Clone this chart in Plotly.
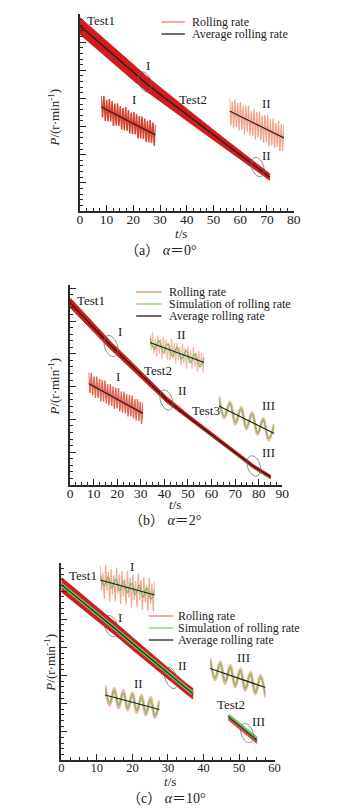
import numpy as np
import plotly.graph_objects as go

W, H = 360, 811

# ---------------- Panel (a)  alpha = 0 deg ----------------
a_t = [0, 10, 20, 25, 30, 40, 50, 60, 70, 71]
a_avg = [6.58, 5.75, 4.92, 4.52, 4.15, 3.42, 2.70, 1.99, 1.28, 1.21]
a_upper = [6.88, 6.04, 5.20, 4.79, 4.40, 3.63, 2.88, 2.14, 1.40, 1.33]
a_lower = [6.28, 5.46, 4.64, 4.25, 3.90, 3.21, 2.52, 1.84, 1.16, 1.09]

# inset I (t 20-28)
aI_avg = [4.82, 4.26]
aI_roll = [5.04, 4.61, 5.04, 4.54, 4.96, 4.53, 4.98, 4.53, 4.94, 4.44, 4.89, 4.45, 4.89, 4.44,
           4.84, 4.37, 4.80, 4.35, 4.82, 4.34, 4.76, 4.29, 4.71, 4.28, 4.72, 4.27, 4.68, 4.19,
           4.64, 4.19, 4.63, 4.18, 4.59, 4.12, 4.54, 4.11, 4.56, 4.10, 4.51, 4.04, 4.47]
# inset II (t 62-70)
aII_avg = [1.98, 1.44]
aII_roll = [2.24, 1.69, 2.17, 1.63, 2.21, 1.66, 2.14, 1.59, 2.16, 1.60, 2.08, 1.51, 2.09, 1.56,
            2.09, 1.49, 1.98, 1.48, 2.02, 1.41, 1.96, 1.45, 1.97, 1.39, 1.89, 1.34, 1.90, 1.36,
            1.90, 1.27, 1.82, 1.29, 1.83, 1.24, 1.74, 1.26, 1.78, 1.18, 1.72, 1.18, 1.70]

# ---------------- Panel (b)  alpha = 2 deg ----------------
b_t = [0, 10, 17, 25, 33, 41, 50, 60, 70, 78, 85]
b_avg = [5.56, 4.80, 4.27, 3.72, 3.16, 2.60, 2.08, 1.54, 1.00, 0.56, 0.25]
b_upper = [5.71, 4.93, 4.39, 3.83, 3.26, 2.69, 2.16, 1.61, 1.06, 0.61, 0.30]
b_lower = [5.41, 4.67, 4.15, 3.61, 3.06, 2.51, 2.00, 1.47, 0.94, 0.51, 0.20]
b_sim = [5.56, 4.80, 4.27, 3.72, 3.16, 2.60, 2.07, 1.51, 0.96, 0.52, 0.22]

bI_avg = [4.39, 3.79]
bI_roll = [4.61, 4.20, 4.60, 4.15, 4.53, 4.10, 4.53, 4.10, 4.48, 4.03, 4.46, 4.03, 4.45, 3.99,
           4.38, 3.95, 4.38, 3.94, 4.33, 3.88, 4.31, 3.89, 4.30, 3.83, 4.23, 3.81, 4.23, 3.79,
           4.18, 3.73, 4.16, 3.73, 4.15, 3.69, 4.08, 3.65, 4.08, 3.64, 4.03, 3.58, 4.01]

bII_avg = [3.29, 2.89]
bII_sim = [3.39, 3.16, 3.33, 3.09, 3.26, 3.01, 3.19, 2.96, 3.13, 2.89, 3.06, 2.81, 2.99]
bII_roll = [3.47, 3.14, 3.49, 3.06, 3.37, 3.00, 3.43, 3.06, 3.36, 2.95, 3.41, 3.05, 3.35, 2.94,
            3.28, 2.94, 3.37, 2.97, 3.28, 2.86, 3.29, 2.94, 3.21, 2.83, 3.27, 2.87, 3.19, 2.77,
            3.22, 2.87, 3.14, 2.76, 3.20, 2.80, 3.09, 2.70, 3.13, 2.77, 3.08, 2.68, 3.08]

bIII_avg = [1.28, 0.73]
bIII_sim = [1.44, 1.07, 1.33, 0.95, 1.22, 0.85, 1.12, 0.74, 1.00, 0.63, 0.89]
bIII_roll = [1.47, 1.04, 1.36, 0.92, 1.25, 0.82, 1.15, 0.71, 1.03, 0.60, 0.92]

# ---------------- Panel (c)  alpha = 10 deg ----------------
c_t = [0, 5, 10, 15, 20, 25, 30, 35, 37]
c_avg = [6.23, 5.72, 5.20, 4.68, 4.14, 3.61, 3.07, 2.55, 2.36]
c_upper = [6.49, 5.97, 5.44, 4.91, 4.36, 3.82, 3.27, 2.74, 2.55]
c_lower = [5.97, 5.47, 4.96, 4.45, 3.92, 3.40, 2.87, 2.36, 2.17]
c_sim = [6.23, 5.72, 5.20, 4.68, 4.14, 3.61, 3.07, 2.55, 2.36]

c2_t = [47, 51, 55]
c2_avg = [1.54, 1.12, 0.71]
c2_upper = [1.60, 1.18, 0.77]
c2_lower = [1.42, 1.00, 0.59]
c2_sim = [1.59, 1.17, 0.76]

cI_avg = [5.50, 5.20]
cI_sim = [5.60, 5.38, 5.56, 5.34, 5.51, 5.29, 5.47, 5.25, 5.43, 5.21, 5.39, 5.16, 5.34, 5.12, 5.30]
cI_roll = [5.80, 5.29, 5.64, 5.12, 5.80, 5.28, 5.66, 5.07, 5.72, 5.21, 5.59, 5.07, 5.75, 5.23,
           5.61, 5.02, 5.68, 5.17, 5.52, 5.00, 5.68, 5.15, 5.54, 4.95, 5.61, 5.10, 5.48, 4.95,
           5.63, 5.10, 5.50, 4.90, 5.56, 5.05, 5.41, 4.88, 5.55, 5.03, 5.43, 4.87, 5.48]

cII_avg = [3.00, 2.71]
cII_sim = [3.14, 2.84, 3.09, 2.79, 3.04, 2.74, 3.00, 2.69, 2.95, 2.64, 2.90, 2.59, 2.85]
cII_roll = [3.19, 2.79, 3.13, 2.74, 3.09, 2.70, 3.04, 2.65, 2.99, 2.60, 2.95, 2.55, 2.89]

cIII_avg = [1.83, 1.45]
cIII_sim = [1.99, 1.64, 1.92, 1.57, 1.85, 1.50, 1.78, 1.43, 1.71, 1.36, 1.65, 1.29]
cIII_roll = [2.03, 1.60, 1.96, 1.53, 1.89, 1.46, 1.82, 1.39, 1.75, 1.32, 1.69, 1.25]

# ---------------- styling ----------------
RED = "#d01c1c"
GREEN = "#6fc25c"
BLACK = "#1e1e1e"
SERIF = "Liberation Serif, Times New Roman, serif"
CAP_FONT = "Liberation Serif, Noto Sans CJK SC, serif"


def X(px):
    return px / W


def Y(py):
    return 1 - py / H


fig = go.Figure()
layout = dict(width=W, height=H, margin=dict(l=0, r=0, t=0, b=0),
              paper_bgcolor="white", plot_bgcolor="rgba(0,0,0,0)", showlegend=False)
annotations = []
shapes = []


def main_axes(n, xbox, ybox, xr, yr, fsize):
    sx = "" if n == 1 else str(n)
    common = dict(showline=True, linecolor="#2a2a2a", linewidth=1.5, ticks="inside",
                  tickwidth=1.1, tickcolor="#2a2a2a", showgrid=False, zeroline=False,
                  fixedrange=True)
    layout["xaxis" + sx] = dict(domain=[X(xbox[0]), X(xbox[1])], range=xr, anchor="y" + sx,
                                dtick=10, ticklen=6, ticklabelstandoff=-5,
                                minor=dict(dtick=2.5, ticks="inside", ticklen=3, tickcolor="#2a2a2a"),
                                tickfont=dict(family=SERIF, size=fsize, color="#222"), **common)
    layout["yaxis" + sx] = dict(domain=[Y(ybox[1]), Y(ybox[0])], range=yr, anchor="x" + sx,
                                dtick=1, ticklen=6, showticklabels=False,
                                minor=dict(dtick=0.2, ticks="inside", ticklen=3, tickcolor="#2a2a2a"),
                                **common)


def band(ax, t, up, lo, color):
    fig.add_trace(go.Scatter(x=list(t) + list(t)[::-1], y=list(up) + list(lo)[::-1],
                             fill="toself", fillcolor=color, mode="lines",
                             line=dict(color=color, width=0.8),
                             xaxis="x" + ax, yaxis="y" + ax, hoverinfo="skip"))


def line(ax, t, v, color, width, shape="linear"):
    fig.add_trace(go.Scatter(x=t, y=v, mode="lines",
                             line=dict(color=color, width=width, shape=shape),
                             xaxis="x" + ax, yaxis="y" + ax, hoverinfo="skip"))


inset_n = [4]


def inset(xbox, ybox, tr, pr, avg, roll, roll_color, roll_width, roll_shape="linear", sim=None):
    n = inset_n[0]
    inset_n[0] += 1
    ax = str(n)
    layout["xaxis" + ax] = dict(domain=[X(xbox[0]), X(xbox[1])], range=tr, anchor="y" + ax,
                                visible=False, fixedrange=True)
    layout["yaxis" + ax] = dict(domain=[Y(ybox[1]), Y(ybox[0])], range=pr, anchor="x" + ax,
                                visible=False, fixedrange=True)
    line(ax, list(np.linspace(tr[0], tr[1], len(roll))), roll, roll_color, roll_width, roll_shape)
    if sim is not None:
        line(ax, list(np.linspace(tr[0], tr[1], len(sim))), sim, GREEN, 1.3, "spline")
    line(ax, [tr[0], tr[1]], avg, BLACK, 1.2)


def text(px, py, s, size=13):
    annotations.append(dict(x=X(px), y=Y(py), xref="paper", yref="paper", text=s,
                            showarrow=False, xanchor="center", yanchor="middle",
                            font=dict(family=SERIF, size=size, color="#222")))


def ellipse(cx, cy, rx, ry, ang=20):
    a = np.deg2rad(ang)
    pts = []
    for th in np.linspace(0, 2 * np.pi, 41):
        ex, ey = rx * np.cos(th), ry * np.sin(th)
        px = cx + ex * np.cos(a) + ey * np.sin(a)
        py = cy - ex * np.sin(a) + ey * np.cos(a)
        pts.append((X(px), Y(py)))
    path = "M " + " L ".join(f"{p[0]:.5f},{p[1]:.5f}" for p in pts) + " Z"
    shapes.append(dict(type="path", path=path, xref="paper", yref="paper",
                       line=dict(color="#6a6a6a", width=0.8)))


def legend(x0, x1, xt, rows):
    for py, col, lab in rows:
        shapes.append(dict(type="line", x0=X(x0), x1=X(x1), y0=Y(py), y1=Y(py), xref="paper",
                           yref="paper", line=dict(color=col, width=1.3)))
        annotations.append(dict(x=X(xt), y=Y(py), xref="paper", yref="paper", text=lab,
                                showarrow=False, xanchor="left", yanchor="middle",
                                font=dict(family=SERIF, size=12, color="#222")))


def axis_titles(xt, yt):
    text(xt[0], xt[1], "<i>t</i>/s", 13)
    annotations.append(dict(x=X(yt[0]), y=Y(yt[1]), xref="paper", yref="paper",
                            text="<i>P</i>/(r·min<sup>-1</sup>)", textangle=-90, showarrow=False,
                            xanchor="center", yanchor="middle",
                            font=dict(family=SERIF, size=13, color="#222")))


ROLL_LEG = "#f07f6c"
SIM_LEG = "#86cc70"

# ===== Panel (a) =====
main_axes(1, (79, 299), (14, 211), [0, 80], [0, 7], 13.5)
band("", a_t, a_upper, a_lower, RED)
line("", a_t, a_avg, BLACK, 1.2)
inset((101, 157), (90, 148), [20, 28], [4.0, 5.16], aI_avg, aI_roll, "#d8432f", 1.5)
inset((233, 289), (95, 155), [62, 70], [1.1, 2.3], aII_avg, aII_roll, "#f0a48c", 1.3)
text(101, 21, "Test1")
text(149, 65, "I")
ellipse(146, 82, 6, 10.5)
text(195, 100, "Test2")
text(135, 100, "I")
text(271, 104, "II")
text(271, 155, "II")
ellipse(262, 167, 6, 10)
legend(163, 187, 192, [(22, ROLL_LEG, "Rolling rate"), (34, BLACK, "Average rolling rate")])
axis_titles((183, 233), (52, 118))
annotations.append(dict(x=X(163), y=Y(250), xref="paper", yref="paper",
                        text="（a） <i>α</i>＝0°", showarrow=False, xanchor="center",
                        yanchor="middle", font=dict(family=CAP_FONT, size=14, color="#222")))

# ===== Panel (b) =====
main_axes(2, (69, 287.3), (285, 485), [0, 90], [0, 6.1], 13.5)
line("2", b_t, b_sim, GREEN, 2.6)
band("2", b_t, b_upper, b_lower, RED)
line("2", b_t, b_avg, BLACK, 1.2)
inset((88, 144), (368, 426), [14, 22], [3.54, 4.70], bI_avg, bI_roll, "#e46656", 1.4)
inset((151, 207), (332, 382), [38, 46], [2.5, 3.5], bII_avg, bII_roll, "#f5b8a8", 1.2,
      sim=bII_sim)
inset((222, 279), (390, 450), [72, 80], [0.4, 1.6], bIII_avg, bIII_roll, "#f6b6a6", 3.0,
      roll_shape="spline", sim=bIII_sim)
text(91, 300, "Test1")
text(120, 331, "I")
ellipse(111, 346, 6.5, 11)
text(184, 334, "II")
text(118, 376, "I")
text(159, 370, "Test2")
text(185, 390, "II")
ellipse(168, 400, 6, 10.5)
text(209, 411, "Test3")
text(273, 405, "III")
text(273, 452, "III")
ellipse(258, 466, 6.5, 10.5)
legend(137, 163, 169, [(292, ROLL_LEG, "Rolling rate"), (304, SIM_LEG, "Simulation of rolling rate"),
                       (316, BLACK, "Average rolling rate")])
axis_titles((177, 505), (52, 387))
annotations.append(dict(x=X(167), y=Y(520), xref="paper", yref="paper",
                        text="（b） <i>α</i>＝2°", showarrow=False, xanchor="center",
                        yanchor="middle", font=dict(family=CAP_FONT, size=14, color="#222")))

# ===== Panel (c) =====
main_axes(3, (60, 279.3), (563, 760), [0, 60], [0, 7], 12.5)
band("3", c_t, c_upper, c_lower, RED)
line("3", c_t, c_sim, GREEN, 4)
line("3", c_t, c_avg, BLACK, 1.1)
band("3", c2_t, c2_upper, c2_lower, "#e0483a")
line("3", c2_t, c2_sim, GREEN, 3.5)
line("3", c2_t, c2_avg, BLACK, 1.1)
inset((100, 156), (555, 615), [10, 18], [4.8, 6.0], cI_avg, cI_roll, "#f2a894", 1.2, sim=cI_sim)
inset((105, 161), (675, 725), [28, 36], [2.4, 3.4], cII_avg, cII_roll, "#f4b0a0", 3.0,
      roll_shape="spline", sim=cII_sim)
inset((213, 270), (650, 705), [50, 55], [1.1, 2.2], cIII_avg, cIII_roll, "#f4b0a0", 3.0,
      roll_shape="spline", sim=cIII_sim)
text(82, 575, "Test1")
text(133, 566, "I")
text(120, 617, "I")
ellipse(111, 626, 6.5, 11)
text(185, 665, "II")
ellipse(173, 678, 6, 11)
text(139, 683, "II")
text(247, 657, "III")
text(235, 704, "Test2")
text(263, 721, "III")
ellipse(251, 733, 6, 10)
legend(150, 175, 178, [(616, ROLL_LEG, "Rolling rate"), (628, SIM_LEG, "Simulation of rolling rate"),
                       (640, BLACK, "Average rolling rate")])
axis_titles((172, 781), (48, 663))
annotations.append(dict(x=X(168), y=Y(798), xref="paper", yref="paper",
                        text="（c） <i>α</i>＝10°", showarrow=False, xanchor="center",
                        yanchor="middle", font=dict(family=CAP_FONT, size=14, color="#222")))

layout["annotations"] = annotations
layout["shapes"] = shapes
fig.update_layout(**layout)
fig.write_html("out.html", config={"displayModeBar": False},
               post_script="document.body.style.margin='0px';document.body.style.overflow='hidden';")
